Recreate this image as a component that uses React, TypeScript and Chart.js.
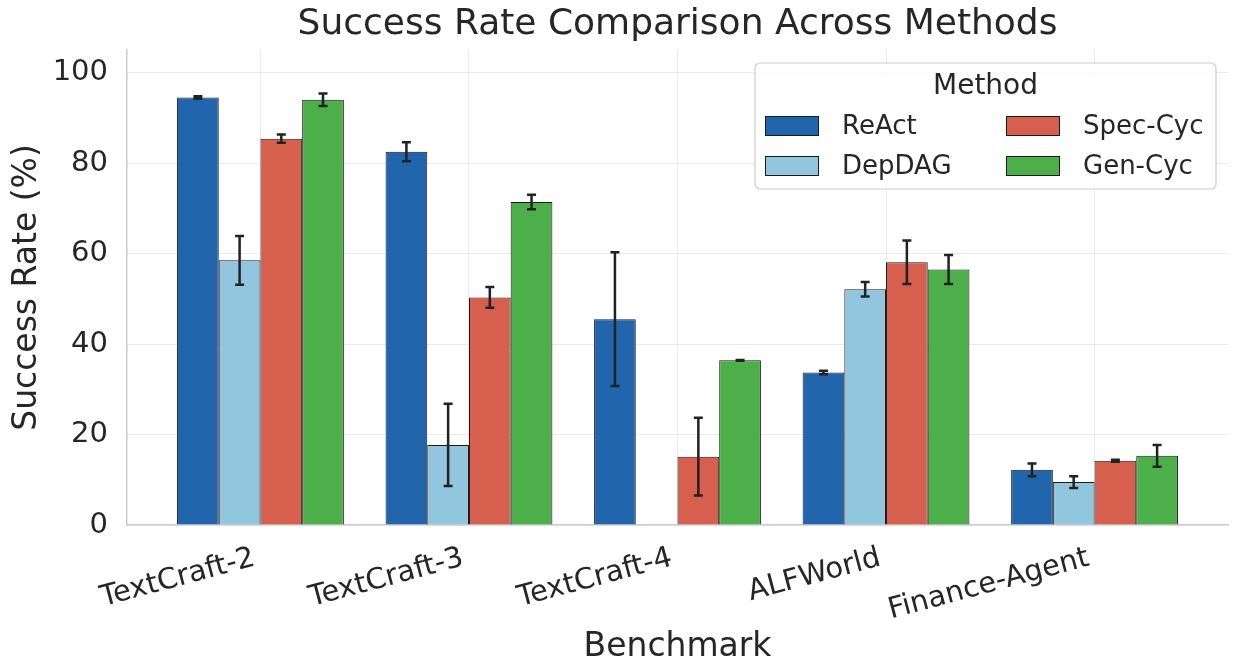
import React, { useEffect, useRef } from "react";
import { Chart, registerables } from "chart.js";

Chart.register(...registerables);

const CATEGORIES = ["TextCraft-2", "TextCraft-3", "TextCraft-4", "ALFWorld", "Finance-Agent"];
const METHODS = ["ReAct", "DepDAG", "Spec-Cyc", "Gen-Cyc"];
const COLORS = ["#2166ac", "#92c5de", "#d6604d", "#4daf4a"];

const REACT = [94.5, 82.5, 45.5, 33.7, 12.2];
const REACT_ERR = [0.3, 2.1, 14.8, 0.4, 1.4];
const DEPDAG = [58.5, 17.7, 0, 52.1, 9.5];
const DEPDAG_ERR = [5.4, 9.1, 0, 1.6, 1.3];
const SPEC_CYC = [85.4, 50.3, 15.1, 58.1, 14.2];
const SPEC_CYC_ERR = [0.9, 2.3, 8.6, 4.8, 0.2];
const GEN_CYC = [94.0, 71.4, 36.4, 56.5, 15.3];
const GEN_CYC_ERR = [1.4, 1.6, 0.1, 3.2, 2.4];

const Y_TICKS = [0, 20, 40, 60, 80, 100];

const TITLE = "Success Rate Comparison Across Methods";
const X_TITLE = "Benchmark";
const Y_TITLE = "Success Rate (%)";
const LEGEND_TITLE = "Method";

const SERIES = [REACT, DEPDAG, SPEC_CYC, GEN_CYC];
const ERRORS = [REACT_ERR, DEPDAG_ERR, SPEC_CYC_ERR, GEN_CYC_ERR];

const FONT = "'DejaVu Sans', sans-serif";
const TEXT = "#262626";

const titlePlugin = {
  id: "axesTitle",
  afterDraw(chart: any) {
    const ctx = chart.ctx;
    const area = chart.chartArea;
    ctx.save();
    ctx.fillStyle = TEXT;
    ctx.font = `36px ${FONT}`;
    ctx.textAlign = "center";
    ctx.textBaseline = "middle";
    ctx.fillText(TITLE, (area.left + area.right) / 2, 25);
    ctx.restore();
  },
};

const errorBarPlugin = {
  id: "errorBars",
  afterDatasetsDraw(chart: any) {
    const ctx = chart.ctx;
    const yScale = chart.scales.y;
    ctx.save();
    ctx.strokeStyle = "#222222";
    ctx.lineWidth = 2.5;
    chart.data.datasets.forEach((ds: any, i: number) => {
      const meta = chart.getDatasetMeta(i);
      const errs = ERRORS[i];
      meta.data.forEach((el: any, j: number) => {
        const v = SERIES[i][j];
        const e = errs[j];
        if (e <= 0) return;
        const x = el.x;
        const yHi = yScale.getPixelForValue(v + e);
        const yLo = yScale.getPixelForValue(v - e);
        ctx.beginPath();
        ctx.moveTo(x, yHi);
        ctx.lineTo(x, yLo);
        ctx.moveTo(x - 4.5, yHi);
        ctx.lineTo(x + 4.5, yHi);
        ctx.moveTo(x - 4.5, yLo);
        ctx.lineTo(x + 4.5, yLo);
        ctx.stroke();
      });
    });
    ctx.restore();
  },
};

const legendPlugin = {
  id: "customLegend",
  afterDraw(chart: any) {
    const ctx = chart.ctx;
    const area = chart.chartArea;
    const w = 461;
    const h = 126;
    const x0 = area.right - 12 - w;
    const y0 = area.top + 13;
    ctx.save();
    ctx.beginPath();
    const r = 5;
    ctx.moveTo(x0 + r, y0);
    ctx.arcTo(x0 + w, y0, x0 + w, y0 + h, r);
    ctx.arcTo(x0 + w, y0 + h, x0, y0 + h, r);
    ctx.arcTo(x0, y0 + h, x0, y0, r);
    ctx.arcTo(x0, y0, x0 + w, y0, r);
    ctx.closePath();
    ctx.fillStyle = "rgba(255,255,255,0.85)";
    ctx.fill();
    ctx.strokeStyle = "#cccccc";
    ctx.lineWidth = 1.2;
    ctx.stroke();

    ctx.fillStyle = TEXT;
    ctx.textBaseline = "middle";
    ctx.textAlign = "center";
    ctx.font = `28px ${FONT}`;
    ctx.fillText(LEGEND_TITLE, x0 + w / 2, y0 + 24);

    ctx.font = `26px ${FONT}`;
    ctx.textAlign = "left";
    chart.data.datasets.forEach((ds: any, i: number) => {
      const col = Math.floor(i / 2);
      const row = i % 2;
      const sx = x0 + 10 + col * 241;
      const cy = y0 + 63 + row * 40;
      ctx.fillStyle = ds.backgroundColor;
      ctx.fillRect(sx, cy - 9.5, 54, 19);
      ctx.strokeStyle = "#1a1a1a";
      ctx.lineWidth = 1;
      ctx.strokeRect(sx + 0.5, cy - 9.5, 53, 19);
      ctx.fillStyle = TEXT;
      ctx.fillText(ds.label, sx + 77, cy + 1);
    });
    ctx.restore();
  },
};

export default function App() {
  const canvasRef = useRef<HTMLCanvasElement | null>(null);

  useEffect(() => {
    if (!canvasRef.current) return;
    const datasets = METHODS.map((m, i) => ({
      label: m,
      data: SERIES[i].map((v, j) => ({ x: j, y: v })),
      backgroundColor: COLORS[i],
      borderColor: "#1a1a1a",
      borderWidth: 1,
      categoryPercentage: 0.8,
      barPercentage: 1.0,
    }));
    const chart = new Chart(canvasRef.current, {
      type: "bar",
      data: { datasets },
      options: {
        animation: false,
        responsive: false,
        devicePixelRatio: 1,
        layout: { padding: { left: 0, right: 5, top: 50, bottom: 0 } },
        plugins: {
          legend: { display: false },
          tooltip: { enabled: false },
          title: { display: false },
        },
        scales: {
          x: {
            type: "linear",
            min: -0.64,
            max: 4.64,
            offset: false,
            afterBuildTicks: (scale: any) => {
              scale.ticks = CATEGORIES.map((_, i) => ({ value: i }));
            },
            afterFit: (scale: any) => {
              scale.height = 139;
            },
            ticks: {
              callback: (v: any) => CATEGORIES[Math.round(Number(v))] ?? "",
              minRotation: 15,
              maxRotation: 15,
              autoSkip: false,
              padding: 16,
              labelOffset: -6,
              color: TEXT,
              font: { family: FONT, size: 29 },
            },
            grid: { color: "#ebebeb", lineWidth: 1, drawTicks: false, offset: false },
            border: { display: true, color: "#cccccc", width: 1.5 },
            title: {
              display: true,
              text: X_TITLE,
              color: TEXT,
              font: { family: FONT, size: 33, lineHeight: 1 },
              padding: { top: 0, bottom: 0 },
            },
          },
          y: {
            min: 0,
            max: 105,
            afterBuildTicks: (scale: any) => {
              scale.ticks = Y_TICKS.map((v) => ({ value: v }));
            },
            afterFit: (scale: any) => {
              scale.width = 127;
            },
            ticks: {
              padding: 19,
              color: TEXT,
              font: { family: FONT, size: 29 },
            },
            grid: { color: "#ebebeb", lineWidth: 1, drawTicks: false },
            border: { display: true, color: "#cccccc", width: 1.5 },
            title: {
              display: true,
              text: Y_TITLE,
              color: TEXT,
              font: { family: FONT, size: 33, lineHeight: 1.2 },
              padding: { top: 8, bottom: 0 },
            },
          },
        },
      } as any,
      plugins: [errorBarPlugin, legendPlugin, titlePlugin],
    });
    return () => chart.destroy();
  }, []);

  return (
    <div style={{ position: "fixed", left: 0, top: 0, width: 1233, height: 664, background: "#ffffff" }}>
      <canvas ref={canvasRef} width={1233} height={664} />
    </div>
  );
}
